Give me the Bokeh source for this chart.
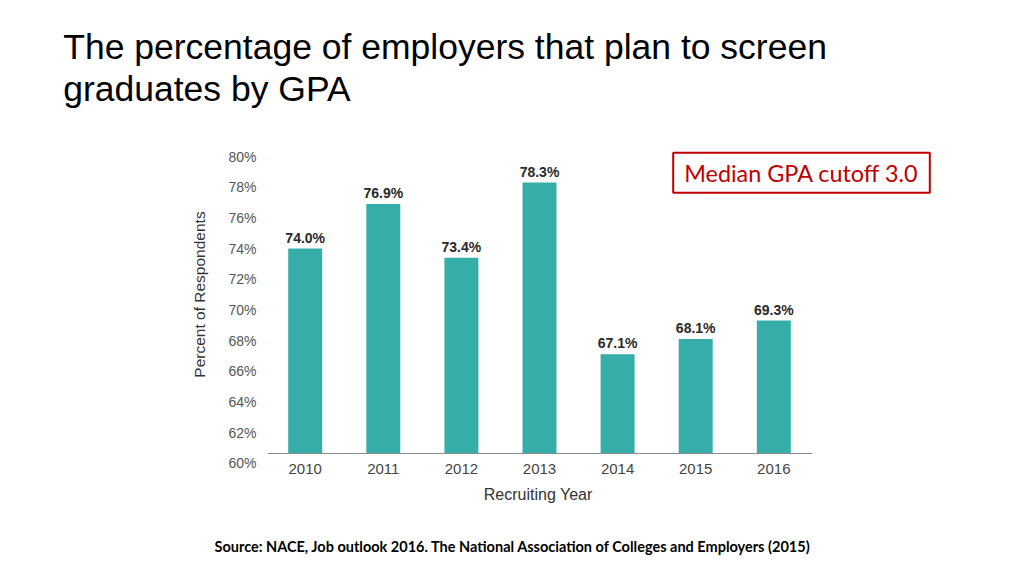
import math
from bokeh.plotting import figure
from bokeh.layouts import column
from bokeh.models import (Range1d, FixedTicker, PrintfTickFormatter, Label, LabelSet,
                          ColumnDataSource, Title)
from bokeh.core.properties import value
from bokeh.embed import file_html
from bokeh.resources import INLINE

# ---- data ----
years = ["2010", "2011", "2012", "2013", "2014", "2015", "2016"]
values = [74.0, 76.9, 73.4, 78.3, 67.1, 68.1, 69.3]
y_ticks = [60, 62, 64, 66, 68, 70, 72, 74, 76, 78, 80]
title_lines = ["The percentage of employers that plan to screen", "graduates by GPA"]
x_title = "Recruiting Year"
y_title = "Percent of Respondents"
note = "Median GPA cutoff 3.0"
source_text = "Source: NACE, Job outlook 2016. The National Association of Colleges and Employers (2015)"

# ---- layout (page pixels) ----
FL, FR, FT, FB = 267, 940, 112, 476
AXR, AXY = 812, 453          # right end / height of the category axis line
PX_CAT, C0 = 78.1, 304.7     # px per category, centre of first category
PX_PCT, Y60 = 15.335, 462.7  # px per percent, position of the 60% tick
x0, x1 = (FL - C0) / PX_CAT, (FR - C0) / PX_CAT
xa_end = (AXR - C0) / PX_CAT
y0 = 60 - (FB - Y60) / PX_PCT
y1 = 80 + (Y60 - 20 * PX_PCT - FT) / PX_PCT
base = 60 + (Y60 - AXY) / PX_PCT   # value where the category axis sits


def xd(px):
    return x0 + (px - FL) * (x1 - x0) / (FR - FL)


def yd(py):
    return y1 - (py - FT) * (y1 - y0) / (FB - FT)


W, H1, H2 = 1008, 510, 47
p = figure(width=W, height=H1, x_range=Range1d(x0, x1), y_range=Range1d(y0, y1),
           output_backend="svg", toolbar_location=None,
           min_border_left=FL, min_border_right=W - FR,
           min_border_top=FT, min_border_bottom=H1 - FB)
p.outline_line_color = None
p.grid.visible = False
p.background_fill_color = "white"
p.border_fill_color = "white"

xs = list(range(len(years)))
src = ColumnDataSource(dict(x=xs, top=values, lab=[f"{v:.1f}%" for v in values]))
p.vbar(x="x", top="top", bottom=base, width=0.435, source=src,
       fill_color="#35ada9", line_color=None)

p.add_layout(LabelSet(x="x", y="top", text="lab", source=src, y_offset=6,
                      text_align="center", text_baseline="alphabetic",
                      text_font=value("Liberation Sans"), text_font_style="bold",
                      text_font_size="14px", text_color="#2a2a2a"))

# x axis (drawn at the baseline of the bars)
xa = p.xaxis[0]
xa.fixed_location = base
xa.bounds = (x0, xa_end)
xa.ticker = FixedTicker(ticks=xs)
xa.major_label_overrides = {i: y for i, y in enumerate(years)}
xa.axis_line_color = "#8c8c8c"
xa.axis_line_width = 1.2
xa.major_tick_line_color = None
xa.minor_tick_line_color = None
xa.major_label_standoff = 4
xa.major_label_text_font = "Liberation Sans"
xa.major_label_text_font_size = "15px"
xa.major_label_text_color = "#444444"

# y axis
ya = p.yaxis[0]
ya.ticker = FixedTicker(ticks=y_ticks)
ya.formatter = PrintfTickFormatter(format="%d%%")
ya.axis_line_color = None
ya.major_tick_line_color = None
ya.minor_tick_line_color = None
ya.major_label_standoff = 5
ya.major_label_text_font = "Liberation Sans"
ya.major_label_text_font_size = "14px"
ya.major_label_text_color = "#555555"
ya.axis_label = y_title
ya.axis_label_text_font = "Liberation Sans"
ya.axis_label_text_font_size = "15.5px"
ya.axis_label_text_font_style = "normal"
ya.axis_label_text_color = "#333333"
ya.axis_label_standoff = 17

# title
p.add_layout(Title(text="\n".join(title_lines), align="left", offset=62.7 - FL,
                   standoff=7, text_line_height=1.04,
                   text_font="Liberation Sans", text_font_size="35.5px",
                   text_font_style="normal", text_color="#000000"), "above")

# x axis title
p.add_layout(Title(text=x_title, align="left", offset=483.3 - FL, standoff=14,
                   text_font="Liberation Sans", text_font_size="16px",
                   text_font_style="normal", text_color="#333333"), "below")

# red note box
p.add_layout(Label(x=xd(801), y=yd(172.2), text=note, text_align="center",
                   text_baseline="middle", text_font="Lato", text_font_size="23.4px",
                   text_color="#c00000", border_line_color="#c00000",
                   border_line_width=2, background_fill_color="white",
                   padding=(11, 6)))

# source strip below the chart (frame aligned with the chart's frame)
q = figure(width=W, height=H2, x_range=Range1d(FL, FR), y_range=Range1d(0, 1),
           output_backend="svg", toolbar_location=None, min_border=0,
           x_axis_location=None, y_axis_location=None)
q.outline_line_color = None
q.grid.visible = False
q.add_layout(Title(text=source_text, align="left", offset=214 - FL, standoff=5,
                   text_font="Lato", text_font_size="14.5px", text_font_style="bold",
                   text_color="#000000"), "below")

open("out.html", "w").write(file_html(column(p, q, spacing=0), INLINE))
